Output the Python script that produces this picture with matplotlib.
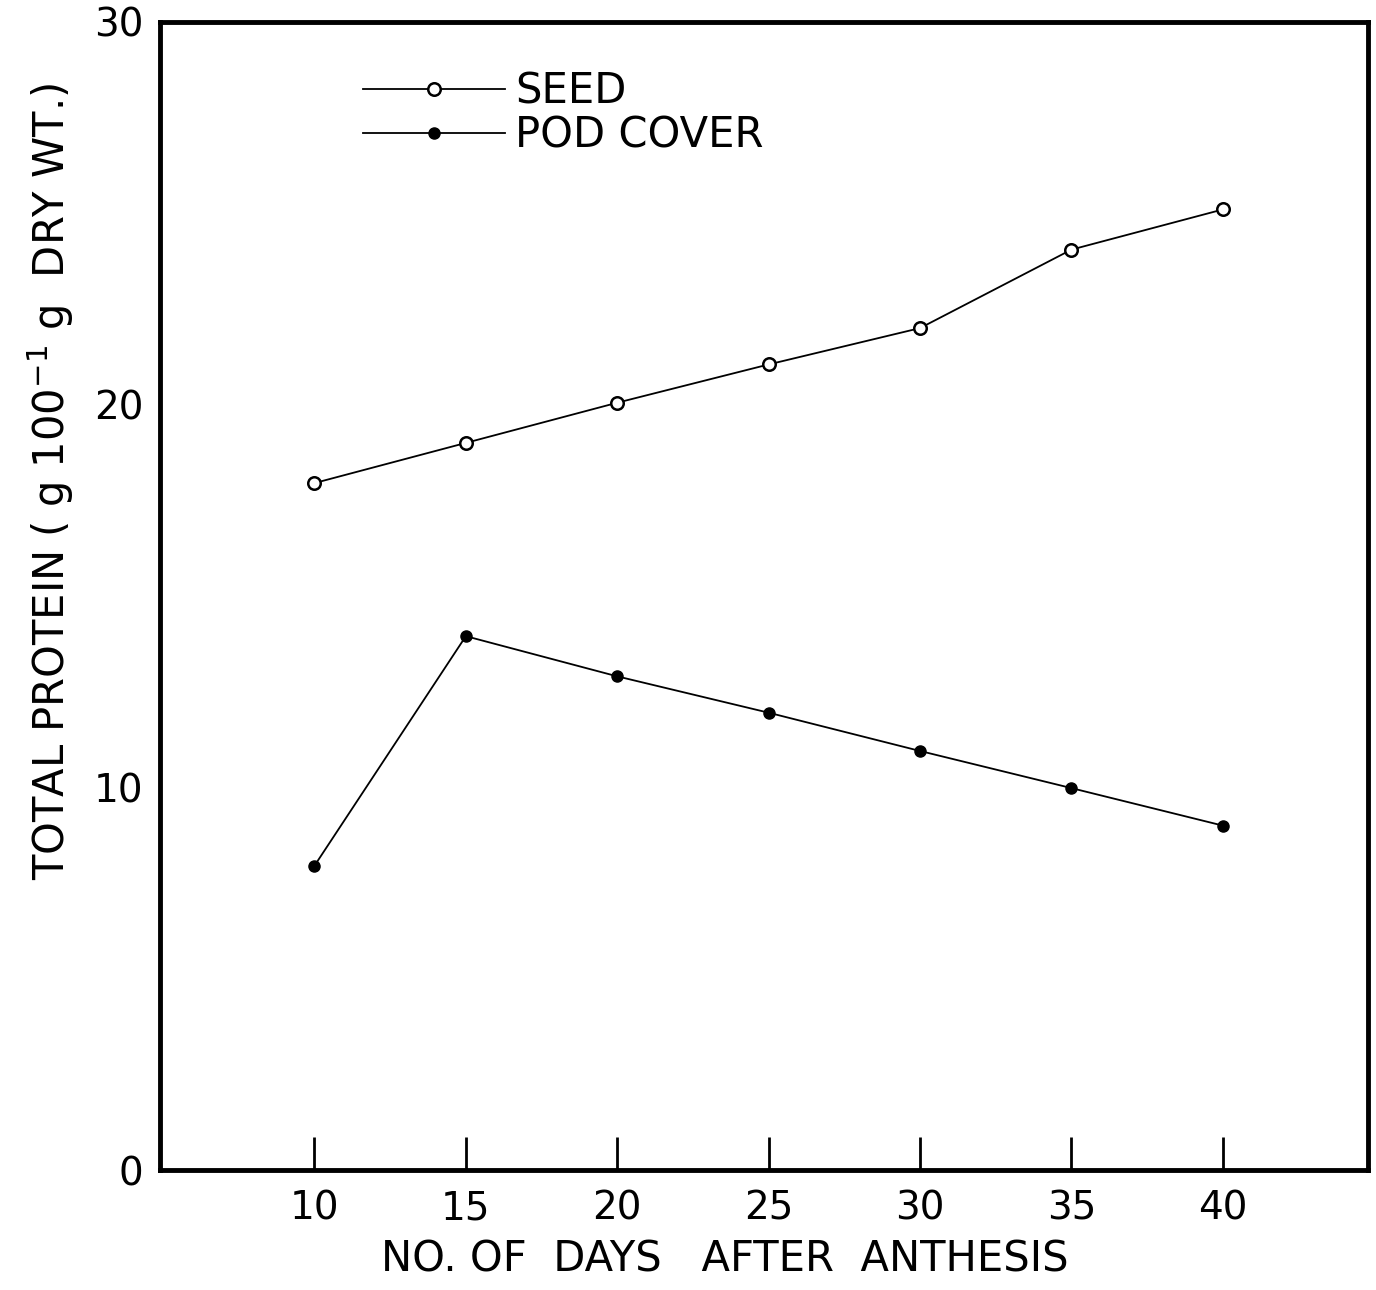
import matplotlib.pyplot as plt

days = [10, 15, 20, 25, 30, 35, 40]
seed = [17.95, 19.0, 20.05, 21.05, 22.0, 24.05, 25.1]
pod_cover = [7.95, 13.95, 12.9, 11.95, 10.95, 9.98, 9.0]

x_ticks = [10, 15, 20, 25, 30, 35, 40]
y_ticks = [0, 10, 20, 30]

plt.rcParams['font.family'] = 'DejaVu Sans'

fig = plt.figure(figsize=(13.76, 12.9), dpi=100)
ax = fig.add_axes([0.1163, 0.093, 0.878, 0.890])

ax.plot(days, seed, color='black', linewidth=1.3, marker='o', markersize=9,
        markerfacecolor='white', markeredgecolor='black', markeredgewidth=1.8, label='SEED')
ax.plot(days, pod_cover, color='black', linewidth=1.3, marker='o', markersize=8,
        markerfacecolor='black', markeredgecolor='black', label='POD COVER')

ax.set_xlim(4.9, 44.8)
ax.set_ylim(0, 30)
ax.set_xticks(x_ticks)
ax.set_yticks(y_ticks)
ax.tick_params(axis='x', direction='in', length=24, width=2, labelsize=28, pad=14)
ax.tick_params(axis='y', length=0, labelsize=28, pad=12)

for side in ['left', 'right', 'top', 'bottom']:
    ax.spines[side].set_linewidth(3.5)

fig.text(0.527, 0.024, 'NO. OF  DAYS   AFTER  ANTHESIS', ha='center', va='center', fontsize=30)
fig.text(0.037, 0.627, 'TOTAL PROTEIN ( g 100$^{-1}$ g  DRY WT.)', ha='center', va='center',
         rotation=90, fontsize=30)

ax.legend(loc='upper left', bbox_to_anchor=(0.137, 0.99), frameon=False, fontsize=30,
          handlelength=3.4, handletextpad=0.25, labelspacing=0.05)

plt.savefig('out.png', dpi=100)
